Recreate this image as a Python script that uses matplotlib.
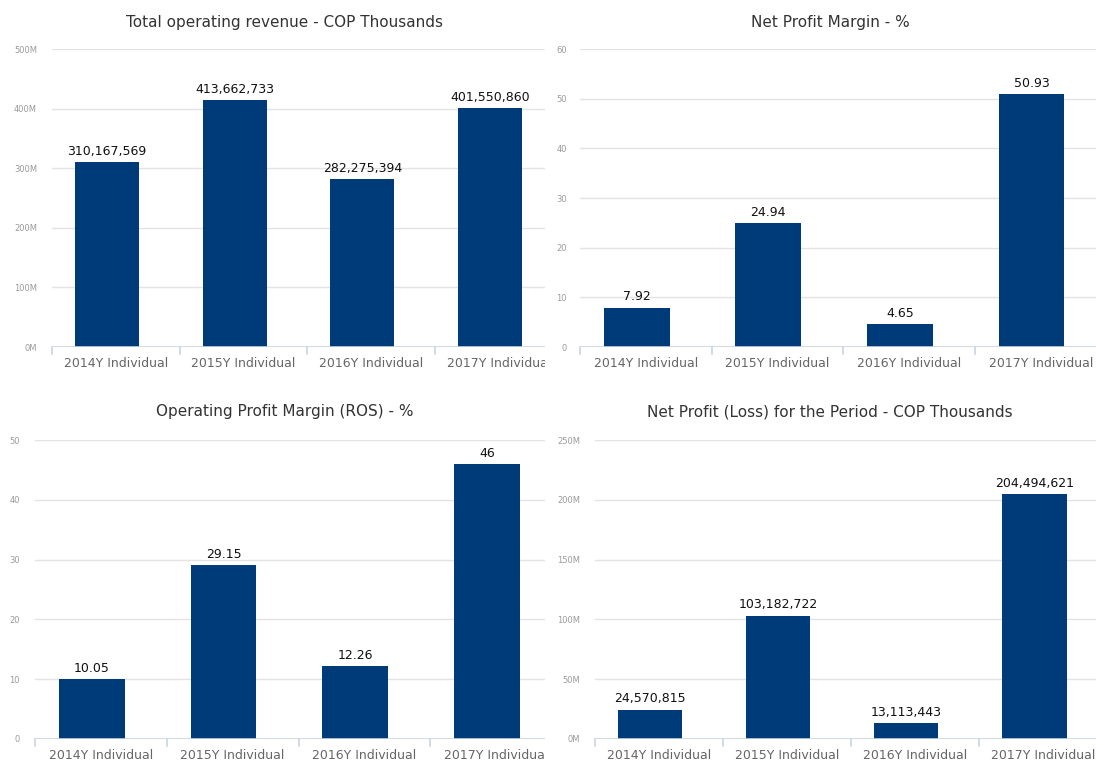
import numpy as np
import matplotlib
matplotlib.use('Agg')
import matplotlib.pyplot as plt
from matplotlib.transforms import Bbox, TransformedBbox

# data
categories = ['2014Y Individual', '2015Y Individual', '2016Y Individual', '2017Y Individual']
revenue = [310167569, 413662733, 282275394, 401550860]
net_margin = [7.92, 24.94, 4.65, 50.93]
op_margin = [10.05, 29.15, 12.26, 46]
net_profit = [24570815, 103182722, 13113443, 204494621]

titles = ['Total operating revenue - COP Thousands', 'Net Profit Margin - %',
          'Operating Profit Margin (ROS) - %', 'Net Profit (Loss) for the Period - COP Thousands']
revenue_labels = ['310,167,569', '413,662,733', '282,275,394', '401,550,860']
net_margin_labels = ['7.92', '24.94', '4.65', '50.93']
op_margin_labels = ['10.05', '29.15', '12.26', '46']
net_profit_labels = ['24,570,815', '103,182,722', '13,113,443', '204,494,621']

W, H = 1096, 764
BAR = '#003b79'
GRID = '#e3e3e3'
AXIS = '#c9d5e2'

fig = plt.figure(figsize=(W / 100, H / 100), dpi=100)


def panel(left, right, bottom, top, xright, values, labels, yticks, ytick_labels,
          title, title_x, title_y, pad_px):
    ax = fig.add_axes([left / W, 1 - bottom / H, (right - left) / W, (bottom - top) / H])
    x = np.arange(len(values))
    ax.bar(x, values, width=0.5, color=BAR, zorder=3)
    ax.set_xlim(-0.43, xright)
    ax.set_ylim(0, yticks[-1])
    for s in ax.spines.values():
        s.set_visible(False)
    for t in yticks[1:]:
        ax.axhline(t, color=GRID, lw=1, zorder=1)
    ax.axhline(0, color=AXIS, lw=1.2, zorder=4)
    ax.set_yticks(yticks)
    ax.set_yticklabels(ytick_labels)
    ax.tick_params(axis='y', length=0, pad=pad_px * 0.72, labelsize=6, labelcolor='#9a9a9a')
    ax.set_xticks([])
    # category separators below the axis line
    for s in np.arange(-0.43, xright, 1.0):
        ax.plot([s, s], [0, -0.022], transform=ax.get_xaxis_transform(), color=AXIS,
                lw=1.2, clip_on=False)
    clip = TransformedBbox(Bbox.from_extents(left / W, 0, right / W, 1), fig.transFigure)
    for i, c in enumerate(categories):
        t = ax.text(i + 0.07, -0.035, c, transform=ax.get_xaxis_transform(), ha='center',
                    va='top', fontsize=9, color='#666666', family='DejaVu Sans')
        t.set_clip_path(None)
        t.set_clip_box(clip)
        t.set_clip_on(True)
    for i, (v, lab) in enumerate(zip(values, labels)):
        ax.annotate(lab, (i, v), xytext=(0, 3), textcoords='offset points', ha='center',
                    va='bottom', fontsize=9, color='#111111', family='DejaVu Sans')
    fig.text(title_x / W, 1 - title_y / H, title, ha='center', va='center', fontsize=11,
             color='#333333', family='DejaVu Sans')
    return ax


m_ticks = [0, 100e6, 200e6, 300e6, 400e6, 500e6]
panel(52, 545, 347, 49, 3.43, revenue, revenue_labels, m_ticks,
      ['%dM' % (v / 1e6) for v in m_ticks], titles[0], 285, 22, 15)

p_ticks = [0, 10, 20, 30, 40, 50, 60]
panel(580, 1096, 347, 49, 3.49, net_margin, net_margin_labels, p_ticks,
      [str(v) for v in p_ticks], titles[1], 830, 22, 13)

o_ticks = [0, 10, 20, 30, 40, 50]
panel(35, 545, 739, 440, 3.44, op_margin, op_margin_labels, o_ticks,
      [str(v) for v in o_ticks], titles[2], 285, 412, 15)

n_ticks = [0, 50e6, 100e6, 150e6, 200e6, 250e6]
panel(595, 1096, 739, 440, 3.48, net_profit, net_profit_labels, n_ticks,
      ['%dM' % (v / 1e6) for v in n_ticks], titles[3], 830, 412, 15)

plt.savefig('out.png', dpi=100)
